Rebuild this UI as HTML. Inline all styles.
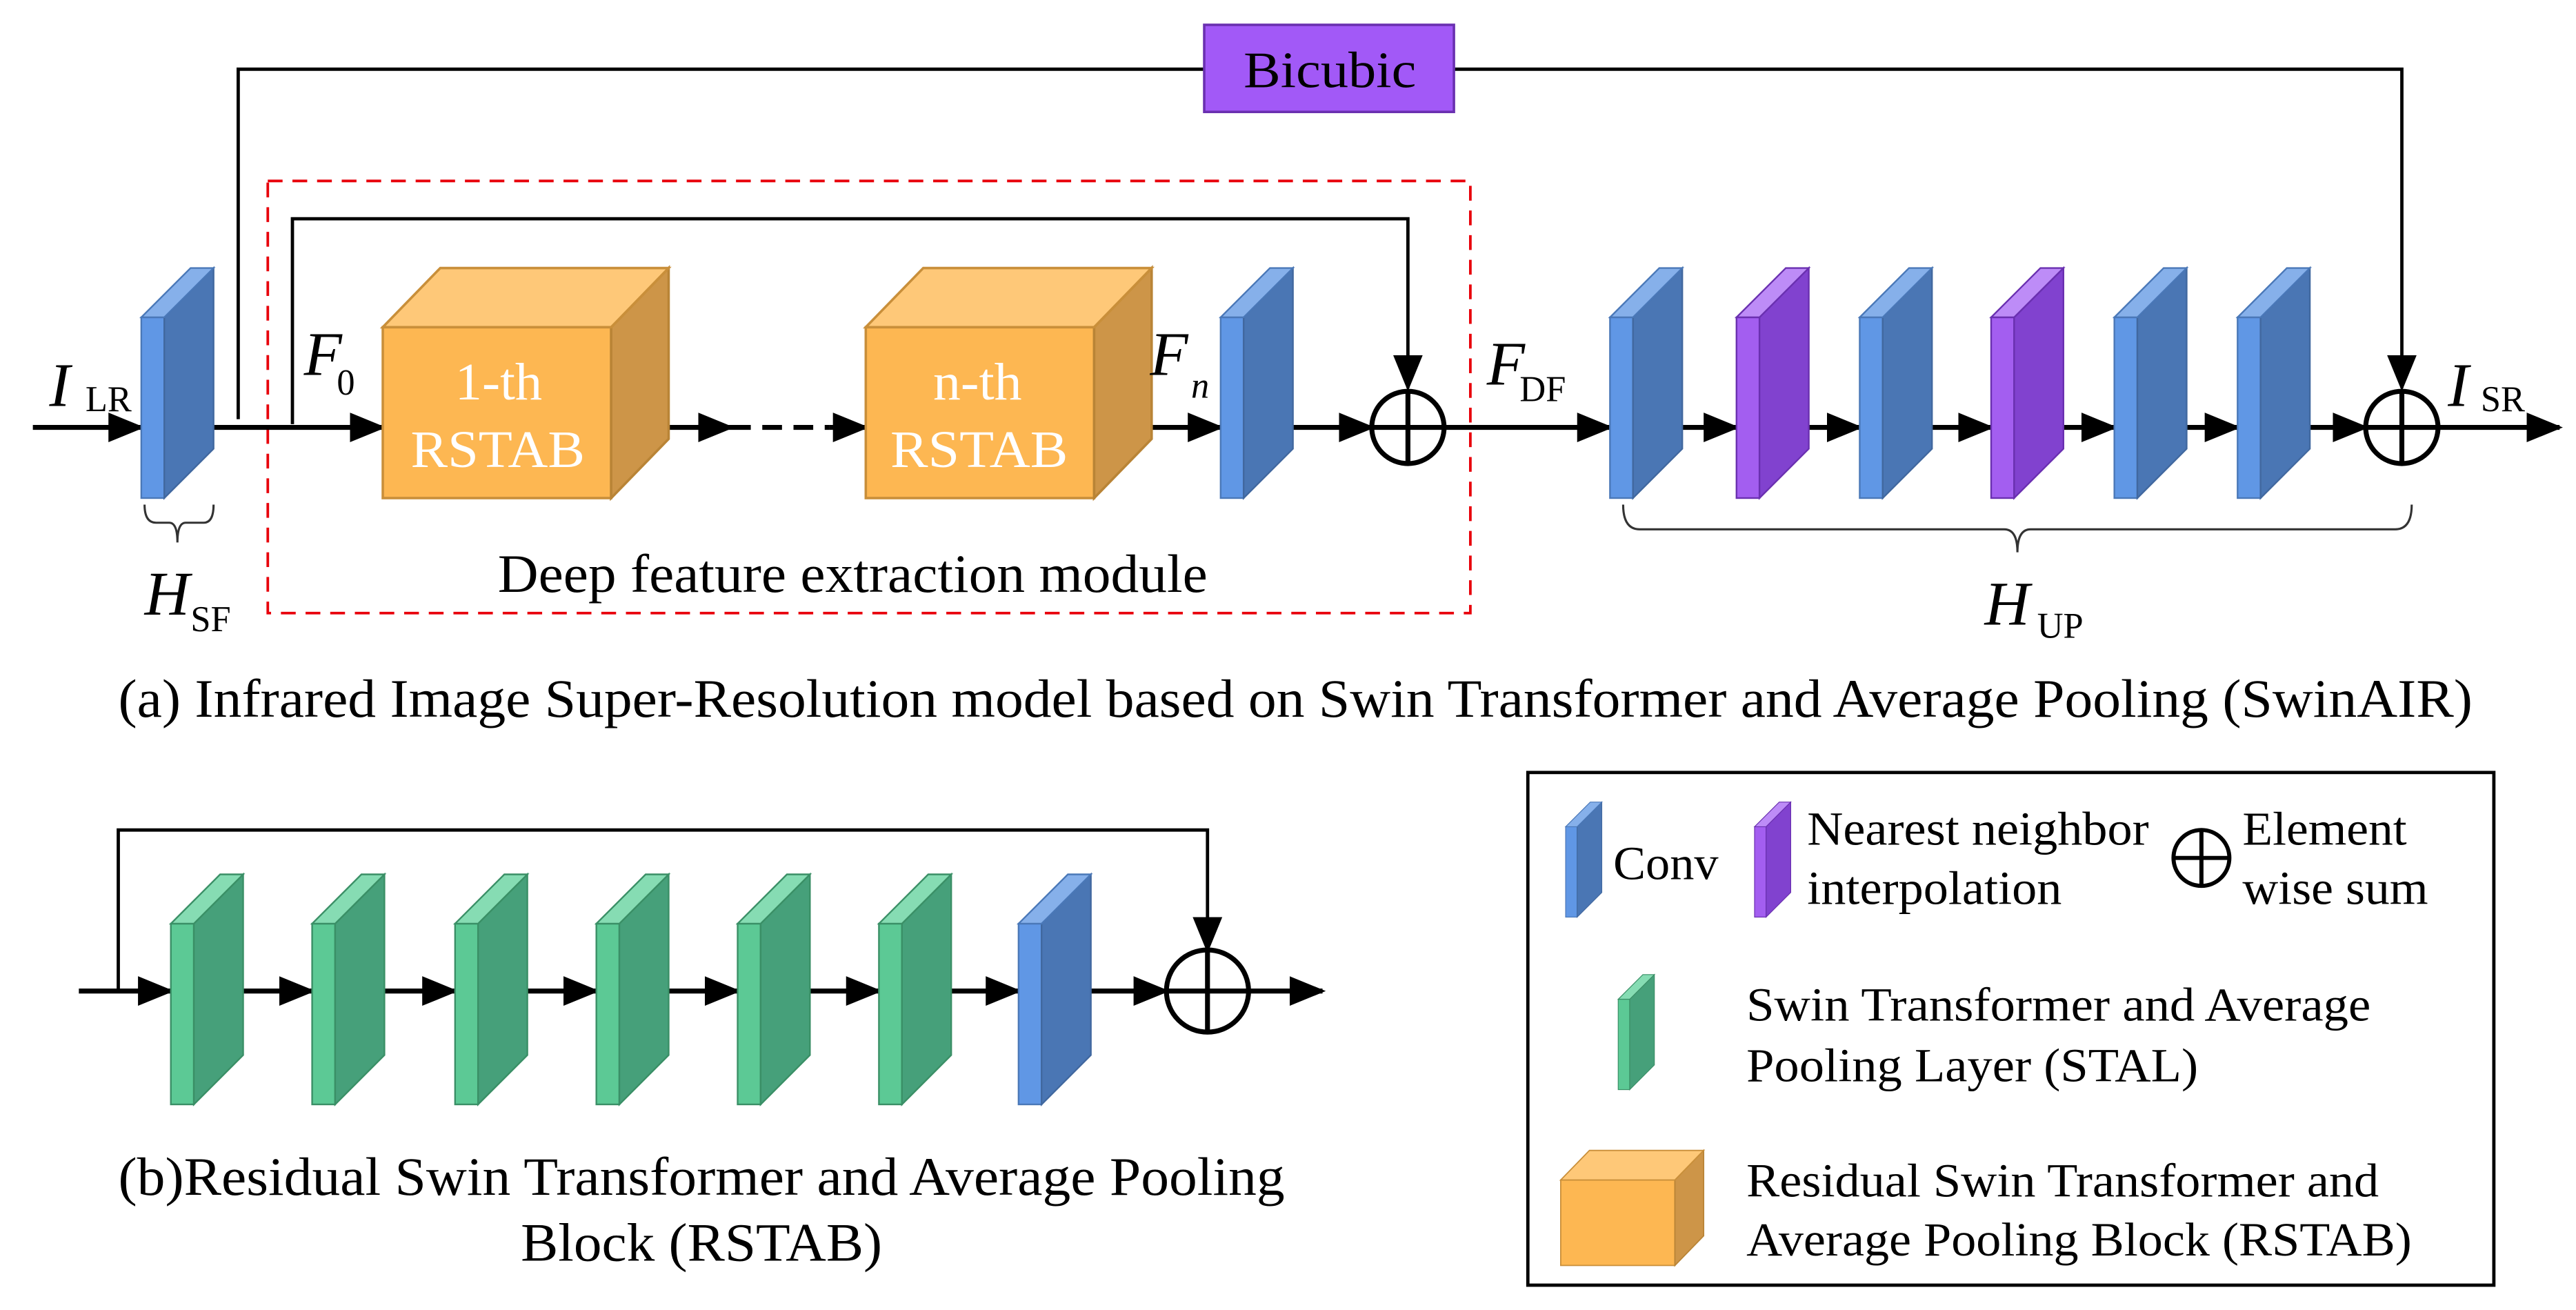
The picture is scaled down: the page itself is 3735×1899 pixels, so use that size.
<!DOCTYPE html>
<html><head><meta charset="utf-8"><style>html,body{margin:0;padding:0;background:#fff}svg{display:block}svg text{font-family:"Liberation Serif","DejaVu Serif",serif}</style></head>
<body>
<svg width="3735" height="1899" viewBox="0 0 1568 797" xmlns="http://www.w3.org/2000/svg" style="font-family:'Liberation Serif',serif">
<defs>
<marker id="b" markerWidth="22" markerHeight="22" refX="20" refY="11" orient="auto" markerUnits="userSpaceOnUse" viewBox="0 0 22 22"><path d="M0,2 L22,11 L0,20 z" fill="#000"/></marker>
<g id="conv"><rect x="0" y="30" width="14" height="110" fill="#6097e5" stroke="#4a78b8" stroke-width="1"/><path d="M14,30 L44,0 L44,110 L14,140 z" fill="#4a76b4" stroke="#41689f" stroke-width="1"/><path d="M0,30 L30,0 L44,0 L14,30 z" fill="#86b0ea" stroke="#4a78b8" stroke-width="1"/></g>
<g id="purp"><rect x="0" y="30" width="14" height="110" fill="#a35ef0" stroke="#6a30b0" stroke-width="1"/><path d="M14,30 L44,0 L44,110 L14,140 z" fill="#8142cf" stroke="#6a30b0" stroke-width="1"/><path d="M0,30 L30,0 L44,0 L14,30 z" fill="#bd8cf7" stroke="#6a30b0" stroke-width="1"/></g>
<g id="grn"><rect x="0" y="30" width="14" height="110" fill="#5cc995" stroke="#3a8f66" stroke-width="1"/><path d="M14,30 L44,0 L44,110 L14,140 z" fill="#46a07a" stroke="#3a8f66" stroke-width="1"/><path d="M0,30 L30,0 L44,0 L14,30 z" fill="#86dcb3" stroke="#3a8f66" stroke-width="1"/></g>
<g id="cube"><rect x="0" y="36" width="139" height="104" fill="#fdb752" stroke="#c98f3a" stroke-width="1.5"/><path d="M139,36 L174,0 L174,104 L139,140 z" fill="#cd9548" stroke="#b98436" stroke-width="1.5"/><path d="M0,36 L35,0 L174,0 L139,36 z" fill="#fec878" stroke="#c98f3a" stroke-width="1.5"/></g>
</defs>
<g stroke="#000" stroke-width="2" fill="none">
<polyline points="145,255 145,42 733,42"/>
<polyline points="885,42 1462,42 1462,236" marker-end="url(#b)"/>
<polyline points="178,258 178,133 857,133 857,236" marker-end="url(#b)"/>
</g>
<rect x="163" y="110" width="732" height="263" fill="none" stroke="#e8000b" stroke-width="1.6" stroke-dasharray="9,6"/>
<rect x="733" y="15" width="152" height="53" fill="#a259f7" stroke="#6a30b0" stroke-width="1.5"/>
<text x="757" y="53" font-size="31" textLength="105" lengthAdjust="spacingAndGlyphs">Bicubic</text>
<g stroke="#000" stroke-width="3" fill="none">
<line x1="20" y1="260" x2="86" y2="260" marker-end="url(#b)"/>
<line x1="130" y1="260" x2="233" y2="260" marker-end="url(#b)"/>
<line x1="407" y1="260" x2="445" y2="260" marker-end="url(#b)"/>
<line x1="445" y1="260" x2="505" y2="260" stroke-dasharray="12,7"/>
<line x1="505" y1="260" x2="527" y2="260" marker-end="url(#b)"/>
<line x1="698" y1="260" x2="743" y2="260" marker-end="url(#b)"/>
<line x1="787" y1="260" x2="835" y2="260" marker-end="url(#b)"/>
<line x1="879" y1="260" x2="980" y2="260" marker-end="url(#b)"/>
<line x1="1024" y1="260" x2="1057" y2="260" marker-end="url(#b)"/>
<line x1="1101" y1="260" x2="1132" y2="260" marker-end="url(#b)"/>
<line x1="1176" y1="260" x2="1212" y2="260" marker-end="url(#b)"/>
<line x1="1256" y1="260" x2="1287" y2="260" marker-end="url(#b)"/>
<line x1="1331" y1="260" x2="1362" y2="260" marker-end="url(#b)"/>
<line x1="1406" y1="260" x2="1440" y2="260" marker-end="url(#b)"/>
<line x1="1484" y1="260" x2="1558" y2="260" marker-end="url(#b)"/>
<circle cx="857" cy="260" r="22"/><line x1="835" y1="260" x2="879" y2="260"/><line x1="857" y1="238" x2="857" y2="282"/>
<circle cx="1462" cy="260" r="22"/><line x1="1440" y1="260" x2="1484" y2="260"/><line x1="1462" y1="238" x2="1462" y2="282"/>
</g>
<use href="#conv" x="86" y="163"/>
<use href="#cube" x="233" y="163"/>
<use href="#cube" x="527" y="163"/>
<use href="#conv" x="743" y="163"/>
<use href="#conv" x="980" y="163"/>
<use href="#purp" x="1057" y="163"/>
<use href="#conv" x="1132" y="163"/>
<use href="#purp" x="1212" y="163"/>
<use href="#conv" x="1287" y="163"/>
<use href="#conv" x="1362" y="163"/>
<g fill="#fff" font-size="32">
<text x="277" y="243" textLength="53" lengthAdjust="spacingAndGlyphs">1-th</text>
<text x="250" y="284" textLength="106" lengthAdjust="spacingAndGlyphs">RSTAB</text>
<text x="568" y="243" textLength="54" lengthAdjust="spacingAndGlyphs">n-th</text>
<text x="542" y="284" textLength="108" lengthAdjust="spacingAndGlyphs">RSTAB</text></g>
<g font-size="38" font-style="italic">
<text x="30" y="247">I</text><text x="185" y="228">F</text><text x="700" y="228">F</text><text x="905" y="234">F</text><text x="1490" y="247">I</text><text x="88" y="374">H</text><text x="1208" y="380">H</text></g>
<g font-size="22"><text x="52" y="250">LR</text><text x="205" y="240">0</text><text x="925" y="244">DF</text><text x="1510" y="250">SR</text><text x="116" y="384">SF</text><text x="1240" y="388">UP</text></g>
<text x="725" y="242" font-size="22" font-style="italic">n</text>
<g stroke="#333" stroke-width="1.3" fill="none">
<path d="M88,307 Q88,318 95,318 L103,318 Q108,318 108,330 Q108,318 113,318 L124,318 Q130,318 130,307"/>
<path d="M988,307 Q988,322 998,322 L1220,322 Q1228,322 1228,336 Q1228,322 1236,322 L1458,322 Q1468,322 1468,307"/>
</g>
<g font-size="33">
<text x="303" y="360" textLength="432" lengthAdjust="spacingAndGlyphs">Deep feature extraction module</text>
<text x="72" y="436" textLength="1433" lengthAdjust="spacingAndGlyphs">(a) Infrared Image Super-Resolution model based on Swin Transformer and Average Pooling (SwinAIR)</text>
<text x="72" y="727" textLength="710" lengthAdjust="spacingAndGlyphs">(b)Residual Swin Transformer and Average Pooling</text>
<text x="317" y="767" textLength="220" lengthAdjust="spacingAndGlyphs">Block (RSTAB)</text>
</g>
<g stroke="#000" stroke-width="2" fill="none"><polyline points="72,603 72,505 735,505 735,578" marker-end="url(#b)"/></g>
<g stroke="#000" stroke-width="3" fill="none">
<line x1="48" y1="603" x2="104" y2="603" marker-end="url(#b)"/>
<line x1="148" y1="603" x2="190" y2="603" marker-end="url(#b)"/>
<line x1="234" y1="603" x2="277" y2="603" marker-end="url(#b)"/>
<line x1="321" y1="603" x2="363" y2="603" marker-end="url(#b)"/>
<line x1="407" y1="603" x2="449" y2="603" marker-end="url(#b)"/>
<line x1="493" y1="603" x2="535" y2="603" marker-end="url(#b)"/>
<line x1="579" y1="603" x2="620" y2="603" marker-end="url(#b)"/>
<line x1="664" y1="603" x2="710" y2="603" marker-end="url(#b)"/>
<line x1="760" y1="603" x2="805" y2="603" marker-end="url(#b)"/>
<circle cx="735" cy="603" r="25"/><line x1="710" y1="603" x2="760" y2="603"/><line x1="735" y1="578" x2="735" y2="628"/>
</g>
<use href="#grn" x="104" y="532"/><use href="#grn" x="190" y="532"/><use href="#grn" x="277" y="532"/><use href="#grn" x="363" y="532"/><use href="#grn" x="449" y="532"/><use href="#grn" x="535" y="532"/><use href="#conv" x="620" y="532"/>
<rect x="930" y="470" width="588" height="312" fill="none" stroke="#000" stroke-width="2"/>
<g transform="translate(953,488) scale(0.5)"><use href="#conv"/></g>
<g transform="translate(1068,488) scale(0.5)"><use href="#purp"/></g>
<g transform="translate(985,593) scale(0.5)"><use href="#grn"/></g>
<g transform="translate(950,700) scale(0.5)"><use href="#cube"/></g>
<g stroke="#000" stroke-width="2.5" fill="none"><circle cx="1340" cy="522" r="17"/><line x1="1323" y1="522" x2="1357" y2="522"/><line x1="1340" y1="505" x2="1340" y2="539"/></g>
<g font-size="29">
<text x="982" y="535" textLength="64" lengthAdjust="spacingAndGlyphs">Conv</text>
<text x="1100" y="514" textLength="208" lengthAdjust="spacingAndGlyphs">Nearest neighbor</text>
<text x="1100" y="550" textLength="155" lengthAdjust="spacingAndGlyphs">interpolation</text>
<text x="1365" y="514" textLength="100" lengthAdjust="spacingAndGlyphs">Element</text>
<text x="1365" y="550" textLength="113" lengthAdjust="spacingAndGlyphs">wise sum</text>
<text x="1063" y="621" textLength="380" lengthAdjust="spacingAndGlyphs">Swin Transformer and Average</text>
<text x="1063" y="658" textLength="275" lengthAdjust="spacingAndGlyphs">Pooling Layer (STAL)</text>
<text x="1063" y="728" textLength="385" lengthAdjust="spacingAndGlyphs">Residual Swin Transformer and</text>
<text x="1063" y="764" textLength="405" lengthAdjust="spacingAndGlyphs">Average Pooling Block (RSTAB)</text>
</g>
</svg>
</body></html>
